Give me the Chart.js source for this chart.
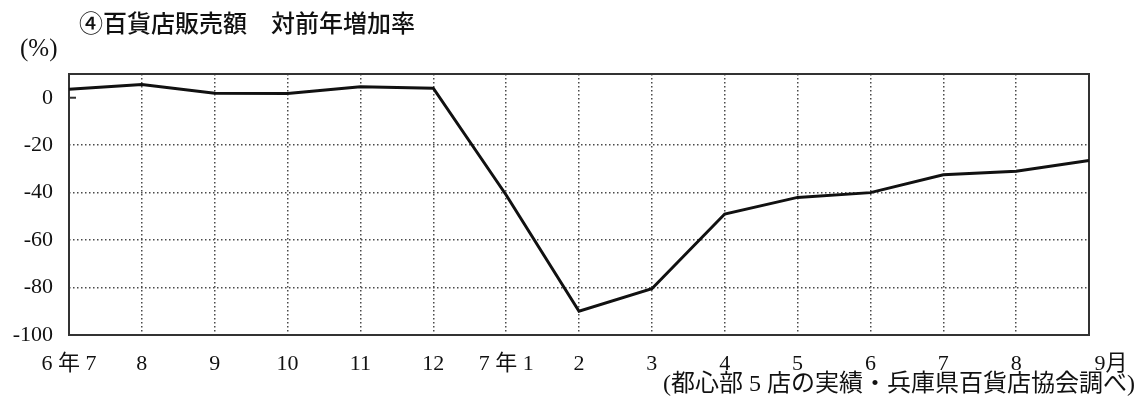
<!DOCTYPE html>
<html>
<head>
<meta charset="utf-8">
<title>百貨店販売額 対前年増加率</title>
<script src="https://cdn.jsdelivr.net/npm/chart.js@4/dist/chart.umd.min.js"></script>
<style>
  html, body { margin: 0; padding: 0; background: #fff; }
  #wrap { width: 1137px; height: 399px; position: relative; }
</style>
</head>
<body>
<div id="wrap"><canvas id="c" width="1137" height="399"></canvas></div>
<script>
// Month labels (平成6年7月 〜 平成7年9月)
const months = ['6 年 7', '8', '9', '10', '11', '12', '7 年 1', '2', '3', '4', '5', '6', '7', '8', '\u3000\u30009月'];
// Year-on-year change of department store sales (%)
const growthRate = [3.6, 5.6, 1.9, 1.8, 4.6, 4.0, -41, -90, -80.5, -49, -42, -40, -32.5, -31, -26.5];
// Value axis ticks
const yTicks = [0, -20, -40, -60, -80, -100];

const titleText = '④百貨店販売額　対前年増加率';
const unitText = '(%)';
const sourceText = '(都心部 5 店の実績・兵庫県百貨店協会調べ)';

const serif = '"Liberation Serif", "DejaVu Serif", "Noto Sans CJK JP", serif';
const gothic = '"Noto Sans CJK JP", "Noto Sans", sans-serif';
const dotColor = '#4a4a4a';

// Frame, zero tick and surrounding text
const decor = {
  id: 'decor',
  beforeDatasetsDraw(chart) {
    const { ctx, chartArea: a, scales } = chart;
    ctx.save();
    ctx.strokeStyle = '#333';
    ctx.lineWidth = 2;
    ctx.strokeRect(a.left, a.top, a.right - a.left, a.bottom - a.top);
    const y0 = scales.y.getPixelForValue(0);
    ctx.beginPath();
    ctx.moveTo(a.left, y0);
    ctx.lineTo(a.left + 7, y0);
    ctx.stroke();
    ctx.restore();
  },
  afterDraw(chart) {
    const { ctx } = chart;
    ctx.save();
    ctx.fillStyle = '#111';
    ctx.textBaseline = 'middle';
    ctx.textAlign = 'left';
    ctx.font = '500 24px ' + gothic;
    ctx.fillText(titleText, 79, 23);
    ctx.font = '25px ' + serif;
    ctx.fillText(unitText, 20, 49);
    ctx.textAlign = 'right';
    ctx.font = '24px ' + serif;
    ctx.fillText(sourceText, 1135, 385);
    ctx.restore();
  }
};

new Chart(document.getElementById('c'), {
  type: 'line',
  data: {
    labels: months,
    datasets: [{
      data: growthRate,
      borderColor: '#111',
      borderWidth: 3,
      pointRadius: 0,
      tension: 0,
      fill: false
    }]
  },
  options: {
    responsive: false,
    animation: false,
    devicePixelRatio: 1,
    layout: { padding: { top: 74, right: 48, left: 0, bottom: 0 } },
    plugins: { legend: { display: false }, tooltip: { enabled: false }, title: { display: false } },
    scales: {
      x: {
        type: 'category',
        offset: false,
        afterFit(s) { s.height = 64; s.paddingLeft = 0; s.paddingRight = 0; },
        border: { display: false, dash: [1.5, 2.5] },
        grid: {
          drawTicks: false,
          lineWidth: 1.5,
          color: (c) => (c.index === 0 || c.index === months.length - 1) ? 'rgba(0,0,0,0)' : dotColor
        },
        ticks: {
          padding: 16,
          maxRotation: 0,
          autoSkip: false,
          color: '#111',
          font: { family: serif, size: 22 }
        }
      },
      y: {
        min: -100,
        max: 10,
        afterFit(s) { s.width = 69; s.paddingTop = 0; s.paddingBottom = 0; },
        afterBuildTicks(s) { s.ticks = yTicks.map(v => ({ value: v })); },
        border: { display: false, dash: [1.5, 2.5] },
        grid: {
          drawTicks: false,
          lineWidth: 1.5,
          color: (c) => (c.tick && (c.tick.value === 0 || c.tick.value === -100)) ? 'rgba(0,0,0,0)' : dotColor
        },
        ticks: {
          padding: 16,
          color: '#111',
          font: { family: serif, size: 22 },
          callback: (v) => String(v)
        }
      }
    }
  },
  plugins: [decor]
});
</script>
</body>
</html>
